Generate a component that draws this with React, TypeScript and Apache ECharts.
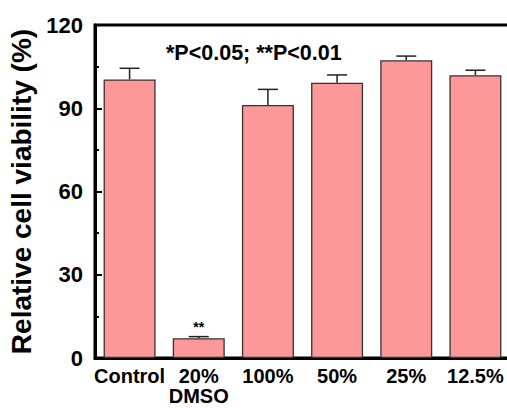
import React, { useEffect, useRef } from "react";
import * as echarts from "echarts";

const categories = ["Control", "20%\nDMSO", "100%", "50%", "25%", "12.5%"];
const viability = [100.4, 7.1, 91.2, 99.2, 107.3, 101.9];
const errors = [4.0, 0.6, 5.6, 2.8, 1.5, 1.8];
const significance = ["", "**", "", "", "", ""];
const yTicks = { min: 0, max: 120, interval: 30 };
const annotation = "*P<0.05; **P<0.01";

const FONT = "Liberation Sans, Arial, Helvetica, sans-serif";

export default function App() {
  const ref = useRef<HTMLDivElement>(null);
  useEffect(() => {
    document.body.style.margin = "0";
    if (!ref.current) return;
    const chart = echarts.init(ref.current, null, { renderer: "svg" });
    chart.setOption({
      animation: false,
      textStyle: { fontFamily: FONT },
      grid: {
        left: 95,
        top: 25,
        width: 415,
        height: 333,
        containLabel: false,
        outerBoundsMode: "none",
        show: true,
        borderColor: "#000",
        borderWidth: 3,
        backgroundColor: "transparent",
      },
      xAxis: {
        type: "category",
        data: categories,
        position: "bottom",
        axisLine: { show: true, lineStyle: { color: "#000", width: 3 } },
        axisTick: { show: false },
        axisLabel: {
          color: "#000",
          fontSize: 20,
          fontWeight: "bold",
          fontFamily: FONT,
          margin: 8,
          lineHeight: 20,
          interval: 0,
        },
      },
      yAxis: {
        type: "value",
        min: yTicks.min,
        max: yTicks.max,
        interval: yTicks.interval,
        name: "Relative cell viability (%)",
        nameLocation: "middle",
        nameGap: 55,
        nameTextStyle: { color: "#000", fontSize: 28, fontWeight: "bold", fontFamily: FONT },
        axisLine: { show: true, lineStyle: { color: "#000", width: 3 } },
        axisTick: { show: true, inside: true, length: 7, lineStyle: { color: "#000", width: 2 } },
        minorTick: { show: true, splitNumber: 2, length: 4, lineStyle: { color: "#000", width: 2 } },
        splitLine: { show: false },
        axisLabel: { color: "#000", fontSize: 22, fontWeight: "bold", fontFamily: FONT, margin: 12 },
      },
      graphic: [
        {
          type: "text",
          left: 166,
          top: 42,
          style: {
            text: annotation,
            font: `bold 21.5px ${FONT}`,
            fill: "#000",
          },
        },
      ],
      series: [
        {
          type: "bar",
          barWidth: 52,
          data: viability.map((v, i) => ({
            value: v,
            label: significance[i]
              ? {
                  show: true,
                  formatter: significance[i],
                  position: "top",
                  distance: 4,
                  fontSize: 14,
                  fontWeight: "bold",
                  color: "#000",
                }
              : { show: false },
          })),
          itemStyle: { color: "#FD9898", borderColor: "#333", borderWidth: 1.3 },
          z: 2,
        },
        {
          type: "custom",
          z: 3,
          data: viability.map((v, i) => [i, v, errors[i]]),
          renderItem: (params: any, api: any) => {
            const x = api.value(0);
            const v = api.value(1);
            const e = api.value(2);
            const base = api.coord([x, v]);
            const top = api.coord([x, v + e]);
            const half = 10;
            return {
              type: "group",
              children: [
                {
                  type: "line",
                  shape: { x1: base[0], y1: base[1], x2: top[0], y2: top[1] },
                  style: { stroke: "#222", lineWidth: 1.5 },
                },
                {
                  type: "line",
                  shape: { x1: top[0] - half, y1: top[1], x2: top[0] + half, y2: top[1] },
                  style: { stroke: "#222", lineWidth: 1.5 },
                },
              ],
            };
          },
        },
      ],
    });
    return () => chart.dispose();
  }, []);
  return <div ref={ref} style={{ width: 507, height: 408 }} />;
}
